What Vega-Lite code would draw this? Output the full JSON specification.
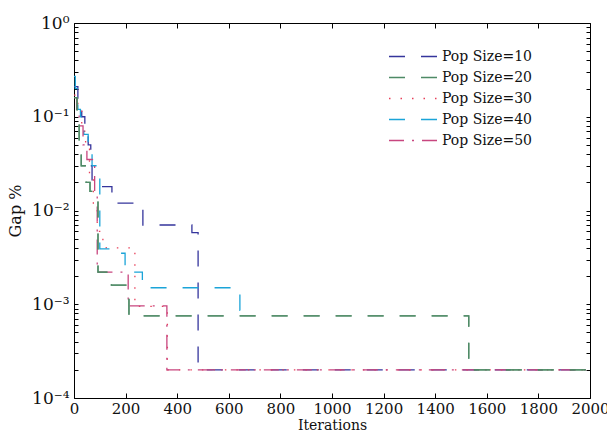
{
  "$schema": "https://vega.github.io/schema/vega-lite/v6.json",
  "width": 516,
  "height": 375,
  "autosize": "none",
  "padding": {"left": 74, "top": 23, "right": 17, "bottom": 45},
  "background": "white",
  "config": {
    "view": {"stroke": "#000", "strokeWidth": 1},
    "font": "DejaVu Serif",
    "axis": {"labelFont": "DejaVu Serif", "titleFont": "DejaVu Serif", "labelColor": "#111", "titleColor": "#111", "tickColor": "#000", "domain": false, "grid": false, "titleFontWeight": "normal"},
    "legend": {"labelFont": "DejaVu Serif"}
  },
  "data": {"values": [
    {"s": "Pop Size=10", "it": 0, "gap": 0.21},
    {"s": "Pop Size=10", "it": 15, "gap": 0.15},
    {"s": "Pop Size=10", "it": 30, "gap": 0.1},
    {"s": "Pop Size=10", "it": 42, "gap": 0.08},
    {"s": "Pop Size=10", "it": 55, "gap": 0.05},
    {"s": "Pop Size=10", "it": 65, "gap": 0.03},
    {"s": "Pop Size=10", "it": 70, "gap": 0.018},
    {"s": "Pop Size=10", "it": 147, "gap": 0.012},
    {"s": "Pop Size=10", "it": 267, "gap": 0.007},
    {"s": "Pop Size=10", "it": 457, "gap": 0.0058},
    {"s": "Pop Size=10", "it": 481, "gap": 0.0002},
    {"s": "Pop Size=10", "it": 2000, "gap": 0.0002},
    {"s": "Pop Size=30", "it": 0, "gap": 0.17},
    {"s": "Pop Size=30", "it": 15, "gap": 0.12},
    {"s": "Pop Size=30", "it": 30, "gap": 0.07},
    {"s": "Pop Size=30", "it": 45, "gap": 0.045},
    {"s": "Pop Size=30", "it": 60, "gap": 0.025},
    {"s": "Pop Size=30", "it": 75, "gap": 0.011},
    {"s": "Pop Size=30", "it": 90, "gap": 0.006},
    {"s": "Pop Size=30", "it": 112, "gap": 0.0045},
    {"s": "Pop Size=30", "it": 125, "gap": 0.004},
    {"s": "Pop Size=30", "it": 236, "gap": 0.00095},
    {"s": "Pop Size=30", "it": 362, "gap": 0.0002},
    {"s": "Pop Size=30", "it": 2000, "gap": 0.0002},
    {"s": "Pop Size=40", "it": 0, "gap": 0.27},
    {"s": "Pop Size=40", "it": 5, "gap": 0.2},
    {"s": "Pop Size=40", "it": 15, "gap": 0.12},
    {"s": "Pop Size=40", "it": 25, "gap": 0.1},
    {"s": "Pop Size=40", "it": 38, "gap": 0.065},
    {"s": "Pop Size=40", "it": 55, "gap": 0.05},
    {"s": "Pop Size=40", "it": 70, "gap": 0.03},
    {"s": "Pop Size=40", "it": 85, "gap": 0.026},
    {"s": "Pop Size=40", "it": 100, "gap": 0.0039},
    {"s": "Pop Size=40", "it": 155, "gap": 0.0035},
    {"s": "Pop Size=40", "it": 198, "gap": 0.0022},
    {"s": "Pop Size=40", "it": 265, "gap": 0.0015},
    {"s": "Pop Size=40", "it": 643, "gap": 0.00086},
    {"s": "Pop Size=40", "it": 672, "gap": 0.00086},
    {"s": "Pop Size=50", "it": 0, "gap": 0.16},
    {"s": "Pop Size=50", "it": 10, "gap": 0.12},
    {"s": "Pop Size=50", "it": 20, "gap": 0.08},
    {"s": "Pop Size=50", "it": 35, "gap": 0.05},
    {"s": "Pop Size=50", "it": 50, "gap": 0.035},
    {"s": "Pop Size=50", "it": 80, "gap": 0.016},
    {"s": "Pop Size=50", "it": 90, "gap": 0.0022},
    {"s": "Pop Size=50", "it": 210, "gap": 0.00096},
    {"s": "Pop Size=50", "it": 360, "gap": 0.0002},
    {"s": "Pop Size=50", "it": 2000, "gap": 0.0002},
    {"s": "Pop Size=20", "it": 0, "gap": 0.16},
    {"s": "Pop Size=20", "it": 12, "gap": 0.088},
    {"s": "Pop Size=20", "it": 20, "gap": 0.045},
    {"s": "Pop Size=20", "it": 28, "gap": 0.03},
    {"s": "Pop Size=20", "it": 47, "gap": 0.02},
    {"s": "Pop Size=20", "it": 62, "gap": 0.016},
    {"s": "Pop Size=20", "it": 93, "gap": 0.0022},
    {"s": "Pop Size=20", "it": 145, "gap": 0.0016},
    {"s": "Pop Size=20", "it": 213, "gap": 0.00075},
    {"s": "Pop Size=20", "it": 1530, "gap": 0.0002},
    {"s": "Pop Size=20", "it": 2000, "gap": 0.0002}
  ]},
  "layer": [
    {
      "mark": {"type": "line", "interpolate": "step-after", "strokeWidth": 1.3},
      "encoding": {
        "x": {"field": "it", "type": "quantitative", "title": "Iterations",
          "scale": {"domain": [0, 2000], "nice": false},
          "axis": {"orient": "bottom", "values": [0,200,400,600,800,1000,1200,1400,1600,1800,2000], "format": "d", "tickSize": -5, "labelFont": "DejaVu Serif", "titleFont": "DejaVu Serif", "labelFontSize": 15, "labelPadding": 8, "labelFlush": false, "labelOverlap": false, "titleFontSize": 14, "titlePadding": 2}},
        "y": {"field": "gap", "type": "quantitative", "title": "Gap %",
          "scale": {"type": "log", "domain": [0.0001, 1], "nice": false},
          "axis": {"orient": "left", "values": [0.0001,0.0002,0.0003,0.0004,0.0005,0.0006,0.0007,0.0008,0.0009,0.001,0.002,0.003,0.004,0.005,0.006,0.007,0.008,0.009,0.01,0.02,0.03,0.04,0.05,0.06,0.07,0.08,0.09,0.1,0.2,0.3,0.4,0.5,0.6,0.7,0.8,0.9,1],
            "labelExpr": "abs(log(datum.value)/LN10 - round(log(datum.value)/LN10)) < 0.000001 ? ({'0':'10⁰','-1':'10⁻¹','-2':'10⁻²','-3':'10⁻³','-4':'10⁻⁴'})[''+round(log(datum.value)/LN10)] : ''",
            "tickSize": -4, "labelFont": "DejaVu Serif", "titleFont": "DejaVu Serif", "labelFontSize": 17, "labelPadding": 9, "labelOverlap": false, "labelFlush": false, "titleFontSize": 16, "titlePadding": 8}},
        "color": {"field": "s", "type": "nominal", "title": null,
          "scale": {"domain": ["Pop Size=10","Pop Size=20","Pop Size=30","Pop Size=40","Pop Size=50"], "range": ["#35359c", "#4e8a66", "#e8405a", "#1ba4d8", "#c8467f"]},
          "legend": {"orient": "none", "legendX": 314, "legendY": 24, "symbolType": "stroke", "symbolSize": 2304, "symbolStrokeWidth": 1.3, "labelFont": "DejaVu Serif", "labelFontSize": 14, "labelColor": "#111", "labelOffset": 4, "clipHeight": 19, "rowPadding": 2, "padding": 0}},
        "strokeDash": {"field": "s", "type": "nominal", "title": null,
          "scale": {"domain": ["Pop Size=10","Pop Size=20","Pop Size=30","Pop Size=40","Pop Size=50"], "range": [[16,16],[16,16],[1.5,10],[16,16],[15,8,2,8]]},
          "legend": {"orient": "none", "legendX": 314, "legendY": 24, "symbolType": "stroke", "symbolSize": 2304, "symbolStrokeWidth": 1.3, "labelFont": "DejaVu Serif", "labelFontSize": 14, "labelColor": "#111", "labelOffset": 4, "clipHeight": 19, "rowPadding": 2, "padding": 0}}
      }
    },
    {
      "transform": [{"filter": "datum.s == 'Pop Size=20'"}],
      "mark": {"type": "line", "interpolate": "step-after", "strokeWidth": 1.3},
      "encoding": {
        "x": {"field": "it", "type": "quantitative", "axis": {"orient": "top", "values": [0,200,400,600,800,1000,1200,1400,1600,1800,2000], "tickSize": -5, "labels": false, "title": null}},
        "y": {"field": "gap", "type": "quantitative", "axis": {"orient": "right", "values": [0.0001,0.0002,0.0003,0.0004,0.0005,0.0006,0.0007,0.0008,0.0009,0.001,0.002,0.003,0.004,0.005,0.006,0.007,0.008,0.009,0.01,0.02,0.03,0.04,0.05,0.06,0.07,0.08,0.09,0.1,0.2,0.3,0.4,0.5,0.6,0.7,0.8,0.9,1], "tickSize": -4, "labels": false, "title": null}},
        "color": {"field": "s", "type": "nominal", "title": null},
        "strokeDash": {"field": "s", "type": "nominal", "title": null}
      }
    }
  ],
  "resolve": {"axis": {"x": "independent", "y": "independent"}}
}
